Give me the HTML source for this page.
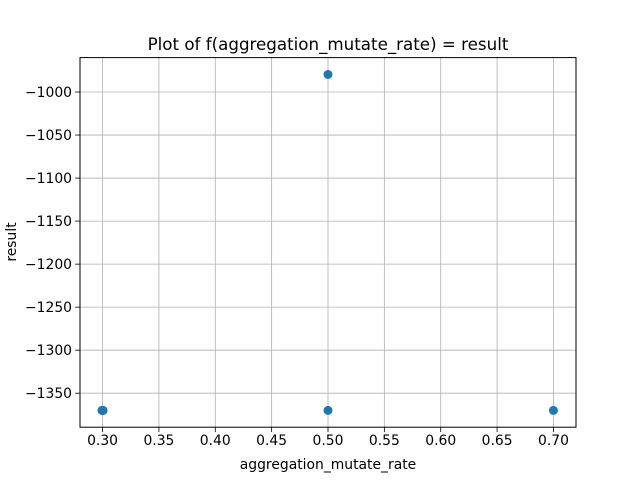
<!DOCTYPE html>
<html><head><meta charset="utf-8"><style>
body{margin:0;background:#fff;}
svg text{font-family:"DejaVu Sans","Liberation Sans",sans-serif;fill:#000;}
</style></head><body>
<svg id="chart" width="640" height="480" xmlns="http://www.w3.org/2000/svg">
<rect width="640" height="480" fill="#fff"/>
<g id="grid"></g>
<g id="ticks"></g>
<g id="points"></g>
<rect x="80" y="57.6" width="496" height="369.6" fill="none" stroke="#000" stroke-width="1"/>
<text x="328" y="50" font-size="16.7" text-anchor="middle">Plot of f(aggregation_mutate_rate) = result</text>
<text x="328" y="469" font-size="13.9" text-anchor="middle">aggregation_mutate_rate</text>
<text x="16" y="242" font-size="13.9" text-anchor="middle" transform="rotate(-90 16 242)">result</text>
</svg>
<script>
const xValues=[0.2995,0.3,0.3005,0.5,0.5,0.7];
const yValues=[-1370,-1370,-1370,-979.6,-1370,-1370];
const xTicks=[0.30,0.35,0.40,0.45,0.50,0.55,0.60,0.65,0.70];
const yTicks=[-1000,-1050,-1100,-1150,-1200,-1250,-1300,-1350];
const L=80,R=576,T=57.6,B=427.2;
const xmin=0.28,xmax=0.72,ymin=-1389.5,ymax=-960;
const sx=v=>L+(v-xmin)/(xmax-xmin)*(R-L);
const sy=v=>B-(v-ymin)/(ymax-ymin)*(B-T);
const NS="http://www.w3.org/2000/svg";
const g=document.getElementById('grid'),tk=document.getElementById('ticks'),pts=document.getElementById('points');
function mk(tag,a,p){const e=document.createElementNS(NS,tag);for(const k in a)e.setAttribute(k,a[k]);p.appendChild(e);return e;}
xTicks.forEach(v=>{const x=sx(v);
 const l=mk('line',{x1:x,x2:x,y1:T,y2:B,stroke:'#b0b0b0','stroke-width':0.8},g);
 
 
 mk('line',{x1:x,x2:x,y1:B,y2:B+4.9,stroke:'#000','stroke-width':0.8},tk);
 const t=mk('text',{x:x,y:B+18,'font-size':13.9,'text-anchor':'middle'},tk);t.textContent=v.toFixed(2);
 
 
});
yTicks.forEach(v=>{const y=sy(v);
 const l=mk('line',{x1:L,x2:R,y1:y,y2:y,stroke:'#b0b0b0','stroke-width':0.8},g);
 
 
 mk('line',{x1:L-4.9,x2:L,y1:y,y2:y,stroke:'#000','stroke-width':0.8},tk);
 const t=mk('text',{x:L-8,y:y+5,'font-size':13.9,'text-anchor':'end'},tk);t.textContent='\u2212'+Math.abs(v);
 
 
});
xValues.forEach((v,i)=>{
 const c=mk('circle',{cx:sx(v),cy:sy(yValues[i]),r:4.5,fill:'#1f77b4'},pts);
 
 
});
</script>
</body></html>
